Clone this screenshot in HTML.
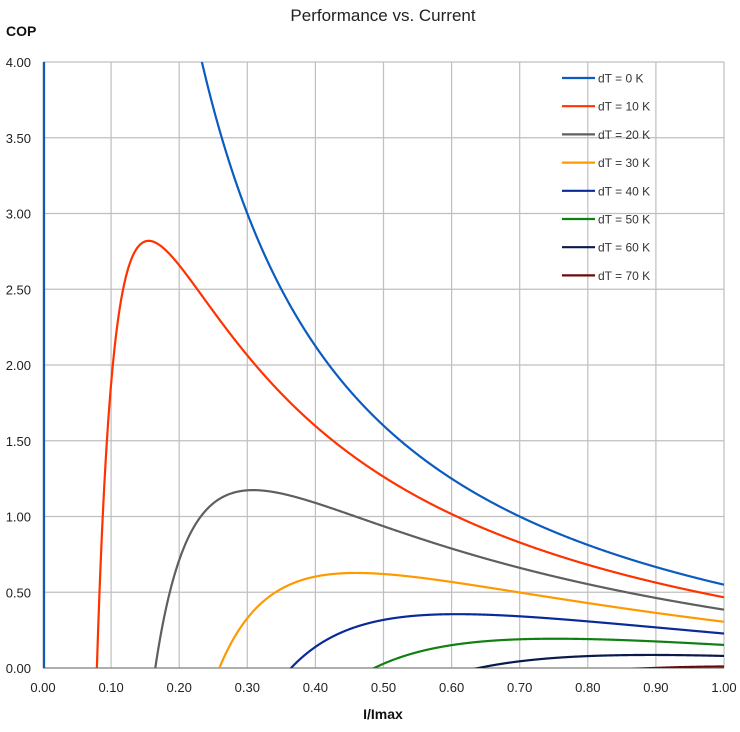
<!DOCTYPE html>
<html><head><meta charset="utf-8"><style>
body{margin:0;background:#fff;}
svg text{font-family:"Liberation Sans",sans-serif;}
</style></head><body>
<svg id="s" width="740" height="727" xmlns="http://www.w3.org/2000/svg">
<defs><clipPath id="c"><rect x="43" y="62" width="681" height="606"/></clipPath></defs>
<text x="383" y="21" font-size="17" text-anchor="middle" fill="#222">Performance vs. Current</text>
<text x="6" y="36" font-size="14" font-weight="bold" fill="#111">COP</text>
<text x="383" y="719" font-size="14" font-weight="bold" text-anchor="middle" fill="#111">I/Imax</text>
<g id="g"></g>
<g id="cv" clip-path="url(#c)"></g>
<g id="lg"></g>
</svg>
<script>
var NS="http://www.w3.org/2000/svg";
function el(p,t,a,txt){var e=document.createElementNS(NS,t);for(var k in a)e.setAttribute(k,a[k]);if(txt!==undefined)e.textContent=txt;p.appendChild(e);return e;}
var g=document.getElementById('g'),cv=document.getElementById('cv'),lg=document.getElementById('lg');
var x0=43,x1=724,y0=668,y1=62;
function X(i){return x0+(x1-x0)*i;}
function Y(c){return y0-(y0-y1)*c/4;}
for(var k=0;k<=10;k++){var x=X(k/10);el(g,'line',{x1:x,x2:x,y1:y1,y2:y0,stroke:'#bfbfbf','stroke-width':1.2});
el(g,'text',{x:x,y:692,'font-size':13,'text-anchor':'middle',fill:'#222'},(k/10).toFixed(2));}
for(var k=0;k<=8;k++){var y=Y(k*0.5);el(g,'line',{x1:x0,x2:x1,y1:y,y2:y,stroke:'#bfbfbf','stroke-width':1.2});
el(g,'text',{x:31,y:y+5,'font-size':13,'text-anchor':'end',fill:'#222'},(k*0.5).toFixed(2));}
el(g,'line',{x1:x0,x2:x1,y1:y0,y2:y0,stroke:'#888','stroke-width':1.2});
var cols=['#0a5cc0','#ff3300','#5f5f5f','#ff9900','#0a2a9a','#108010','#0a1a4a','#6a0a0a'];
var a=1.05,D=0.0007;
for(var j=0;j<8;j++){var dT=j*10,d='',started=false;var kap=0.0080-6e-8*dT*dT;
for(var n=1;n<=2000;n++){var i=n/2000;var q=a*i-0.5*i*i-kap*dT;var p=D*dT*i+i*i;var c=q/p;
if(c<-0.05){started=false;continue;}
if(c>4.2)c=4.2;
d+=(started?'L':'M')+X(i).toFixed(2)+' '+Y(c).toFixed(2);started=true;}
if(j==0)d='M'+X(0.0015)+' '+Y(0)+'L'+X(0.0015)+' '+Y(4.2)+d;
el(cv,'path',{d:d,fill:'none',stroke:cols[j],'stroke-width':2.2});
var ly=78+j*28.2;
el(lg,'line',{x1:562,x2:595,y1:ly,y2:ly,stroke:cols[j],'stroke-width':2.2});
el(lg,'text',{x:598,y:ly+4.5,'font-size':12,fill:'#333'},'dT = '+dT+' K');}
</script>
</body></html>
